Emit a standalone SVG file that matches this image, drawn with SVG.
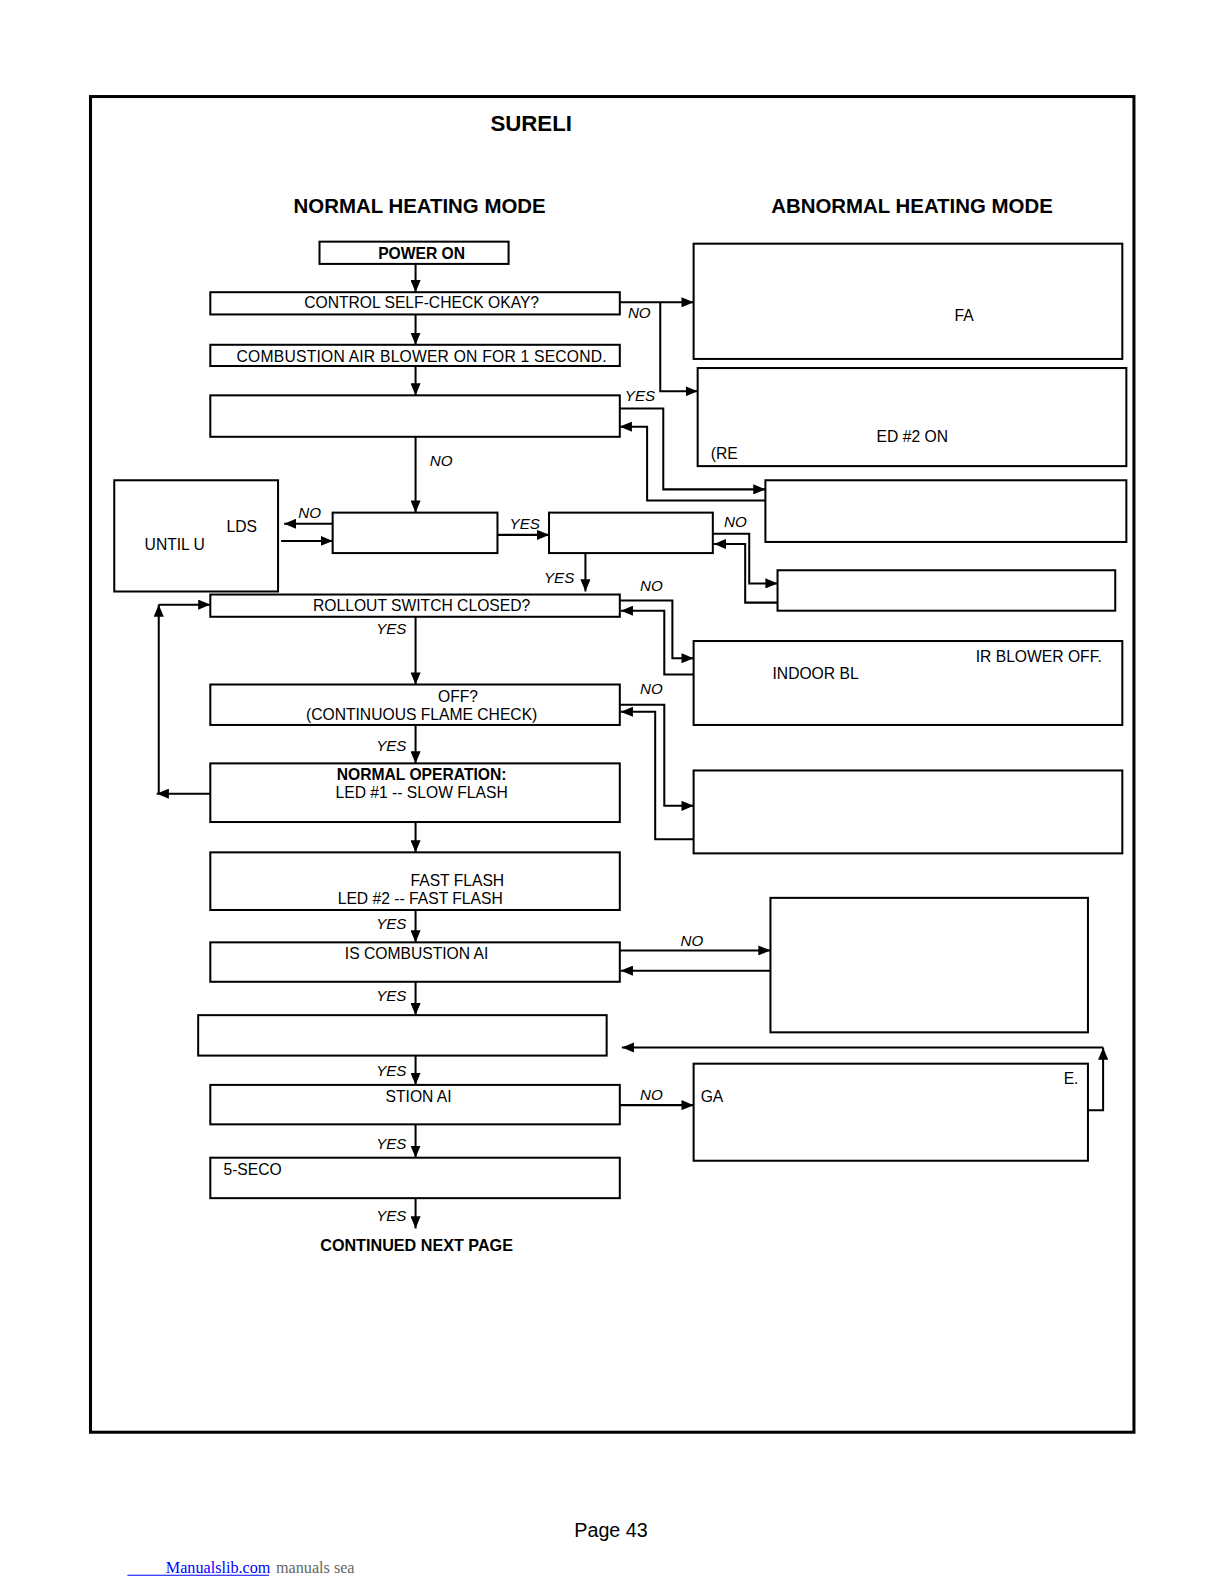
<svg xmlns="http://www.w3.org/2000/svg" width="1224" height="1584" viewBox="0 0 1224 1584">
<defs>
<marker id="ah" markerUnits="userSpaceOnUse" markerWidth="12" markerHeight="10" refX="12" refY="5" orient="auto">
<path d="M0,0 L12,5 L0,10 z" fill="#000"/>
</marker>
<style>
.box{fill:#fff;stroke:#000;stroke-width:2}
.t{font-family:"Liberation Sans",Arial,sans-serif;font-size:15.5px;fill:#000}
.c{text-anchor:middle}
.b{font-weight:bold}
.lbl{font-family:"Liberation Sans",Arial,sans-serif;font-size:15px;font-style:italic;fill:#000}
.ln{fill:none;stroke:#000;stroke-width:2}
.ar{fill:none;stroke:#000;stroke-width:2;marker-end:url(#ah)}
</style>
</defs>
<rect x="0" y="0" width="1224" height="1584" fill="#fff"/>
<g transform="scale(1.0111)">
<rect x="89.5" y="95.5" width="1032" height="1321" fill="none" stroke="#000" stroke-width="3"/>
<text class="t b" x="485" y="130" style="font-size:22px">SURELI</text>
<text class="t b c" x="415" y="211" style="font-size:20.2px">NORMAL HEATING MODE</text>
<text class="t b c" x="902" y="211" style="font-size:20.2px">ABNORMAL HEATING MODE</text>

<g id="connectors">
<path class="ar" d="M411,261 V289"/>
<path class="ar" d="M411,311 V341"/>
<path class="ar" d="M411,362 V391"/>
<path class="ar" d="M411,432 V507"/>
<path class="ar" d="M613,299 H686"/>
<path class="ar" d="M653,299 V387 H690"/>
<path class="ar" d="M613,404 H656 V484 H757"/>
<path class="ar" d="M757,495 H640 V422 H613"/>
<path class="ar" d="M329,518 H281"/>
<path class="ar" d="M278,535 H329"/>
<path class="ar" d="M492,529 H543"/>
<path class="ar" d="M579,547 V585"/>
<path class="ar" d="M705,528 H741 V577 H769"/>
<path class="ar" d="M769,596 H737 V538 H706"/>
<path class="ar" d="M613,594 H665 V651 H686"/>
<path class="ar" d="M686,667 H657 V604 H614"/>
<path class="ar" d="M411,610 V677"/>
<path class="ar" d="M613,697 H657 V797 H686"/>
<path class="ar" d="M686,830 H648 V704 H614"/>
<path class="ar" d="M411,717 V755"/>
<path class="ar" d="M208,785 H155"/>
<path class="ar" d="M157,785 V598"/>
<path class="ar" d="M157,598 H208"/>
<path class="ar" d="M411,813 V843"/>
<path class="ar" d="M411,900 V932"/>
<path class="ar" d="M613,940 H762"/>
<path class="ar" d="M762,960 H614"/>
<path class="ar" d="M411,971 V1004"/>
<path class="ar" d="M411,1044 V1073"/>
<path class="ar" d="M1076,1098 H1091 V1036"/>
<path class="ar" d="M1091,1036 H615"/>
<path class="ar" d="M613,1093 H686"/>
<path class="ar" d="M411,1112 V1145"/>
<path class="ar" d="M411,1185 V1215"/>
<text class="lbl" x="621" y="315">NO</text>
<text class="lbl" x="618" y="397">YES</text>
<text class="lbl" x="425" y="461">NO</text>
<text class="lbl" x="295" y="512">NO</text>
<text class="lbl" x="504" y="523">YES</text>
<text class="lbl" x="716" y="521">NO</text>
<text class="lbl" x="538" y="577">YES</text>
<text class="lbl" x="633" y="585">NO</text>
<text class="lbl" x="372" y="627">YES</text>
<text class="lbl" x="633" y="686">NO</text>
<text class="lbl" x="372" y="743">YES</text>
<text class="lbl" x="372" y="919">YES</text>
<text class="lbl" x="673" y="936">NO</text>
<text class="lbl" x="372" y="990">YES</text>
<text class="lbl" x="372" y="1064">YES</text>
<text class="lbl" x="633" y="1088">NO</text>
<text class="lbl" x="372" y="1136">YES</text>
<text class="lbl" x="372" y="1208">YES</text>
</g>

<g id="power-on"><rect class="box" x="316" y="239" width="187" height="22"/><text class="t b c" x="417" y="256">POWER ON</text></g>
<g id="self-check"><rect class="box" x="208" y="289" width="405" height="22"/><text class="t c" x="417" y="305">CONTROL SELF-CHECK OKAY?</text></g>
<g id="blower-on"><rect class="box" x="208" y="341" width="405" height="21"/><text class="t" x="234" y="358" textLength="366" lengthAdjust="spacing">COMBUSTION AIR BLOWER ON FOR 1 SECOND.</text></g>
<g id="check3"><rect class="box" x="208" y="391" width="405" height="41"/></g>
<g id="left-box"><rect class="box" x="113" y="475" width="162" height="110"/><text class="t" x="224" y="526">LDS</text><text class="t" x="143" y="544">UNTIL U</text></g>
<g id="mid-box"><rect class="box" x="329" y="507" width="163" height="40"/></g>
<g id="mid-right-box"><rect class="box" x="543" y="507" width="162" height="40"/></g>
<g id="rollout"><rect class="box" x="208" y="588" width="405" height="22"/><text class="t c" x="417" y="604">ROLLOUT SWITCH CLOSED?</text></g>
<g id="flame-check"><rect class="box" x="208" y="677" width="405" height="40"/><text class="t c" x="453" y="694">OFF?</text><text class="t c" x="417" y="712">(CONTINUOUS FLAME CHECK)</text></g>
<g id="normal-op"><rect class="box" x="208" y="755" width="405" height="58"/><text class="t b c" x="417" y="771">NORMAL OPERATION:</text><text class="t c" x="417" y="789">LED #1 -- SLOW FLASH</text></g>
<g id="fast-flash"><rect class="box" x="208" y="843" width="405" height="57"/><text class="t" x="406" y="876">FAST FLASH</text><text class="t" x="334" y="894">LED #2 -- FAST FLASH</text></g>
<g id="combustion-air"><rect class="box" x="208" y="932" width="405" height="39"/><text class="t c" x="412" y="948">IS COMBUSTION AI</text></g>
<g id="empty-box"><rect class="box" x="196" y="1004" width="404" height="40"/></g>
<g id="stion-ai"><rect class="box" x="208" y="1073" width="405" height="39"/><text class="t c" x="414" y="1090">STION AI</text></g>
<g id="five-sec"><rect class="box" x="208" y="1145" width="405" height="40"/><text class="t" x="221" y="1162">5-SECO</text></g>
<g id="continued"><text class="t b c" x="412" y="1237" style="font-size:16px">CONTINUED NEXT PAGE</text></g>

<g id="r1"><rect class="box" x="686" y="241" width="424" height="114"/><text class="t" x="944" y="317">FA</text></g>
<g id="r2"><rect class="box" x="690" y="364" width="424" height="97"/><text class="t" x="867" y="437">ED #2 ON</text><text class="t" x="703" y="454">(RE</text></g>
<g id="r3"><rect class="box" x="757" y="475" width="357" height="61"/></g>
<g id="r4"><rect class="box" x="769" y="564" width="334" height="40"/></g>
<g id="r5"><rect class="box" x="686" y="634" width="424" height="83"/><text class="t" x="965" y="655">IR BLOWER OFF.</text><text class="t" x="764" y="672">INDOOR BL</text></g>
<g id="r6"><rect class="box" x="686" y="762" width="424" height="82"/></g>
<g id="r7"><rect class="box" x="762" y="888" width="314" height="133"/></g>
<g id="r8"><rect class="box" x="686" y="1052" width="390" height="96"/><text class="t" x="693" y="1090">GA</text><text class="t" x="1052" y="1072">E.</text></g>

<text class="t" x="568" y="1520" style="font-size:19.5px">Page 43</text>
<line x1="126" y1="1558" x2="266" y2="1558" stroke="#00f" stroke-width="1"/>
<text x="164" y="1556" style="font-family:'Liberation Serif','Times New Roman',serif;font-size:16px;fill:#00f">Manualslib.com</text>
<text x="273" y="1556" style="font-family:'Liberation Serif','Times New Roman',serif;font-size:16px;fill:#666">manuals sea</text>
</g>
</svg>
